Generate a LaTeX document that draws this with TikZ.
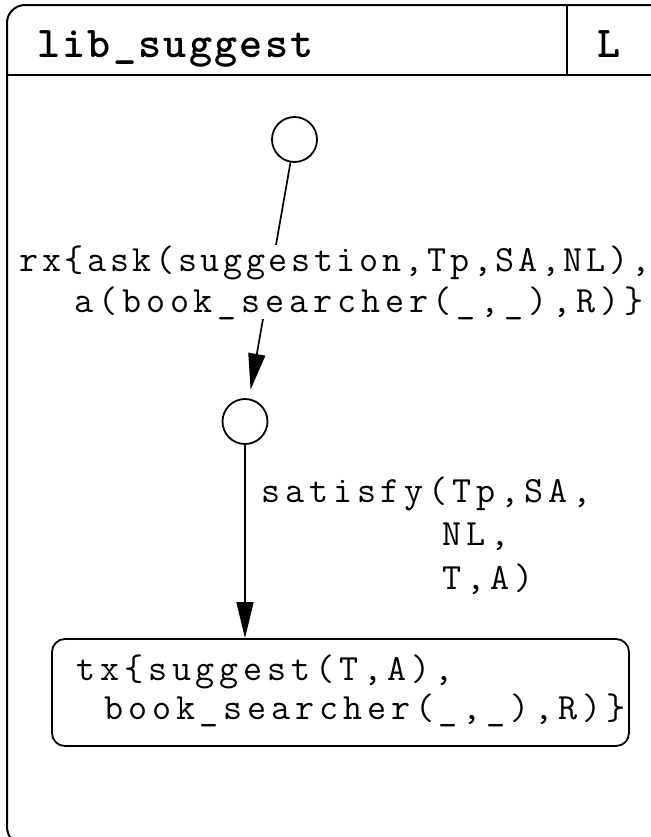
\documentclass[tikz,border=0pt]{standalone}
\usepackage{fontspec}
\usetikzlibrary{arrows.meta}
\newfontfamily\labelmono{Latin Modern Mono}[LetterSpace=13.1]
\newfontfamily\titlemono{Latin Modern Mono Light}[LetterSpace=5]
\begin{document}
\begin{tikzpicture}[x=0.5pt,y=-0.5pt,
  frameline/.style={line width=1pt},
  state/.style={circle,draw,line width=0.9pt,minimum size=22.5pt,inner sep=0pt},
  conn/.style={line width=0.85pt,-{Triangle[length=18pt,width=8.5pt]}},
  lbl/.style={inner sep=0pt,align=left,anchor=base west},
  titletext/.style={inner sep=0pt,anchor=base west,font=\titlemono\bfseries\fontsize{22}{24}\selectfont},
  action/.style={draw,rounded corners=6.5pt,line width=0.9pt,minimum width=288.5pt,minimum height=53.5pt,inner sep=0pt}]
\useasboundingbox (0,0) rectangle (651,837);
\clip (0,0) rectangle (651,837);
% frame of the plan with its header row
\draw[frameline,rounded corners=9pt] (7,5) rectangle (690,845);
\draw[frameline] (7,75) -- (690,75);
\draw[frameline] (567,5) -- (567,75);
\node[titletext] (title) at (37,57) {lib\_suggest};
\node[titletext] (kind) at (597,57) {L};
% states
\node[state] (s0) at (294.5,139.5) {};
\node[state] (s1) at (245,421.5) {};
% final action
\node[action] (act) at (340.5,692.5) {};
\node[lbl,font=\labelmono\fontsize{18.5}{19.5}\selectfont] (acttext) at (76,719)
  {tx\{suggest(T,A),\\\hspace*{14pt}book\_searcher(\_,\_),R)\}};
% transitions
\draw[conn,shorten >=4.5pt] (s0) -- (s1);
\node[lbl,fill=white,font=\labelmono\fontsize{18.5}{20.5}\selectfont] (asklabel) at (19,312)
  {{\addfontfeature{LetterSpace=9.8}rx\{ask(suggestion,Tp,SA,NL),}\\\hspace*{27.5pt}a(book\_searcher(\_,\_),R)\}};
\draw[conn] (s1) -- (s1 |- act.north);
\node[lbl,font=\labelmono\fontsize{18.5}{21.75}\selectfont] (satlabel) at (261,589)
  {satisfy(Tp,SA,\\\hspace*{90.5pt}NL,\\\hspace*{90.5pt}T,A)};
\end{tikzpicture}
\end{document}
